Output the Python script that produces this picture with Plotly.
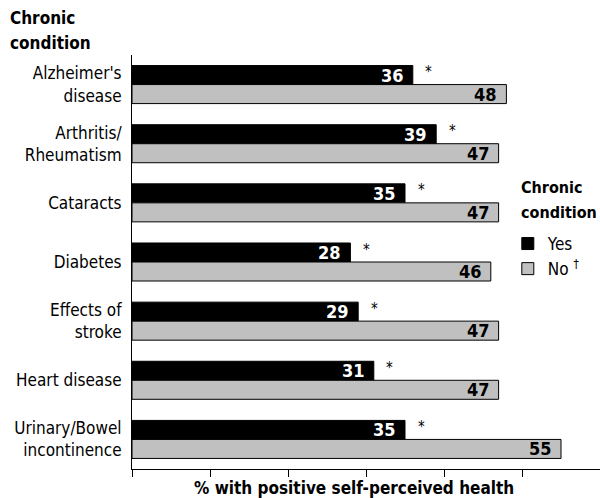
import plotly.graph_objects as go

# Chronic conditions (top to bottom)
conditions = [
    "Alzheimer's<br>disease",
    "Arthritis/<br>Rheumatism",
    "Cataracts",
    "Diabetes",
    "Effects of<br>stroke",
    "Heart disease",
    "Urinary/Bowel<br>incontinence",
]
# % with positive self-perceived health
with_condition = [36, 39, 35, 28, 29, 31, 35]
without_condition = [48, 47, 47, 46, 47, 47, 55]
x_ticks = [0, 10, 20, 30, 40, 50, 60]

FONT = "DejaVu Sans Condensed, Liberation Sans Narrow, Arial Narrow, sans-serif"

fig = go.Figure()
fig.add_trace(go.Bar(
    y=conditions, x=with_condition, orientation="h", name="Yes",
    marker=dict(color="#000000", line=dict(color="#000000", width=1)),
))
fig.add_trace(go.Bar(
    y=conditions, x=without_condition, orientation="h", name="No <sup>†</sup>",
    marker=dict(color="#c0c0c0", line=dict(color="#000000", width=1)),
))

annotations = []
half_bar = 9.5
for cat, yes, no in zip(conditions, with_condition, without_condition):
    annotations.append(dict(x=yes, y=cat, text=f"<b>{yes}</b>", showarrow=False,
                            xanchor="right", xshift=-7, yshift=half_bar,
                            font=dict(family=FONT, size=18, color="white")))
    annotations.append(dict(x=no, y=cat, text=f"<b>{no}</b>", showarrow=False,
                            xanchor="right", xshift=-7, yshift=-half_bar,
                            font=dict(family=FONT, size=18, color="black")))
    annotations.append(dict(x=yes, y=cat, text="*", showarrow=False,
                            xanchor="center", xshift=16, yshift=half_bar + 3,
                            font=dict(family=FONT, size=15, color="black")))


def heading(x, y_px_top, lines, size):
    # two-line bold heading with a 25px line pitch, positioned in paper units
    out = []
    for i, line in enumerate(lines):
        out.append(dict(xref="paper", yref="paper", x=x, y=1.0, xshift=-2,
                        yshift=-(y_px_top + 25 * i), xanchor="left", yanchor="middle",
                        text=f"<b>{line}</b>", showarrow=False,
                        font=dict(family=FONT, size=size, color="black")))
    return out


# axis heading above the category labels (offsets measured from the plot top)
annotations += heading(-0.26, -37, ["Chronic", "condition"], 17)
# legend heading
annotations += heading(0.831, 132, ["Chronic", "condition"], 16)

annotations.append(dict(xref="paper", yref="paper", x=0.475, y=0, yshift=-7,
                        xanchor="center", yanchor="top",
                        text="<b>% with positive self-perceived health</b>", showarrow=False,
                        font=dict(family=FONT, size=17, color="black")))

fig.update_layout(
    width=600, height=498,
    margin=dict(l=132, r=0, t=55, b=29),
    paper_bgcolor="white", plot_bgcolor="white",
    barmode="group", bargap=0.357, bargroupgap=0,
    font=dict(family=FONT, size=17, color="black"),
    showlegend=True,
    legend=dict(
        x=0.803, y=0.587, xanchor="left", yanchor="top",
        font=dict(family=FONT, size=17), bgcolor="rgba(0,0,0,0)",
        traceorder="normal", itemwidth=30,
    ),
    xaxis=dict(range=[0, 60], tickvals=x_ticks, showticklabels=False,
               ticks="outside", ticklen=7, tickcolor="black",
               showline=True, linecolor="black", linewidth=1,
               showgrid=False, zeroline=False, fixedrange=True),
    yaxis=dict(autorange="reversed", showline=True, linecolor="black", linewidth=1,
               ticks="", showgrid=False, ticklabelstandoff=6,
               tickfont=dict(family=FONT, size=17)),
    annotations=annotations,
)

fig.write_html("out.html")
